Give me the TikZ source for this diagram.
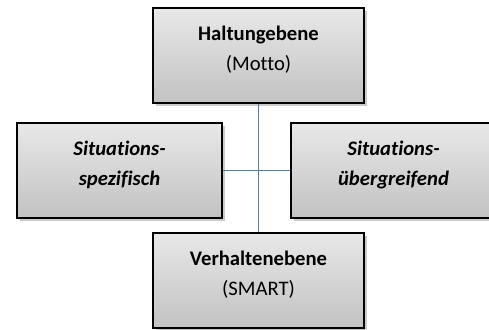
\documentclass[tikz,border=0pt]{standalone}
\usepackage{fontspec}
\setmainfont{Carlito}[Ligatures=NoCommon]
\usepackage{tikz}
\usetikzlibrary{shadows}
\definecolor{linkblue}{HTML}{4A7EBB}
\tikzset{
  box/.style={draw=black, line width=1.5pt, rectangle, align=center,
    font=\fontsize{15.5}{22}\selectfont, top color=gray!18, bottom color=gray!48,
    minimum height=71pt, inner sep=2pt, text depth=11pt,
    drop shadow={shadow xshift=2.2pt, shadow yshift=-2.2pt, fill=black!45, opacity=.45}},
  level/.style={box, minimum width=158pt},
  side/.style={box, minimum width=154pt, font=\fontsize{15.5}{22}\selectfont\bfseries\itshape},
  link/.style={draw=linkblue, line width=1.2pt}}

\begin{document}
\begin{tikzpicture}[x=0.75pt, y=-0.75pt]
  \useasboundingbox (0,0) rectangle (489,329);
  \clip (0,0) rectangle (489,329);
  \node[level] (halt) at (258.5,55.5) {\textbf{Haltungebene}\\(Motto)};
  \node[side] (spez) at (119.5,170.5) {Situations-\\spezifisch};
  \node[side] (uebg) at (393.5,170.5) {Situations-\\übergreifend};
  \node[level] (verh) at (258.5,280.5) {\textbf{Verhaltenebene}\\(SMART)};
  % cross of connectors
  \draw[link] (halt.south) -- (verh.north);
  \draw[link] (spez.east) -- (uebg.west);
\end{tikzpicture}
\end{document}
